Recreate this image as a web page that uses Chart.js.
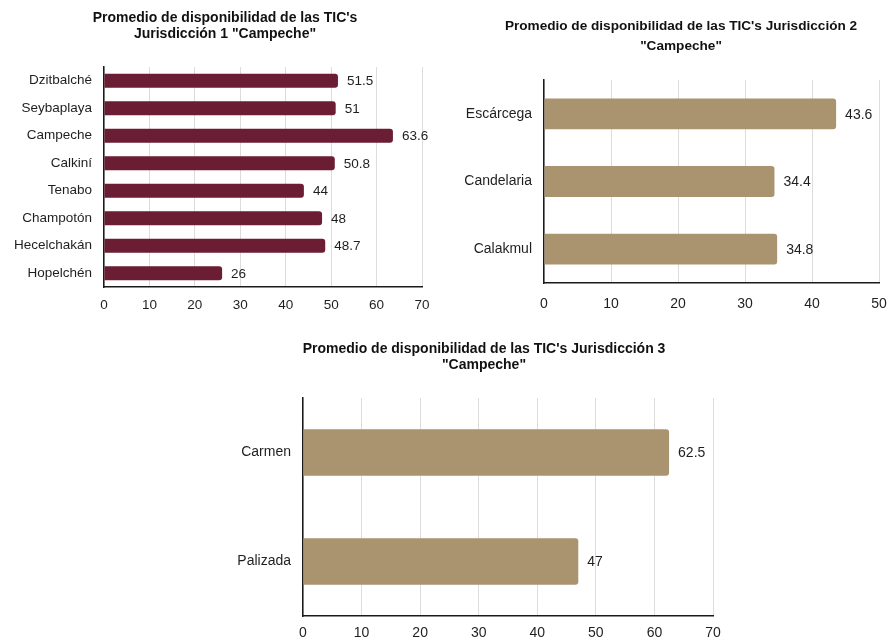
<!DOCTYPE html>
<html lang="es">
<head>
<meta charset="utf-8">
<title>Promedio de disponibilidad de las TIC's — Campeche</title>
<script src="https://cdn.jsdelivr.net/npm/chart.js@4.4.1/dist/chart.umd.min.js"></script>
<style>
  html, body { margin: 0; padding: 0; background: #ffffff; }
  #wrap { position: relative; width: 890px; height: 640px; overflow: hidden; }
  canvas { position: absolute; }
  #c1 { left: 0; top: 0; }
  #c2 { left: 445px; top: 0; }
  #c3 { left: 0; top: 320px; }
</style>
</head>
<body>
<div id="wrap">
  <canvas id="c1" width="445" height="320"></canvas>
  <canvas id="c2" width="445" height="320"></canvas>
  <canvas id="c3" width="890" height="320"></canvas>
</div>
<script>
// Jurisdicción 1
const j1Categories = ['Dzitbalché', 'Seybaplaya', 'Campeche', 'Calkiní', 'Tenabo', 'Champotón', 'Hecelchakán', 'Hopelchén'];
const j1Values = [51.5, 51, 63.6, 50.8, 44, 48, 48.7, 26];
const j1Ticks = [0, 10, 20, 30, 40, 50, 60, 70];

// Jurisdicción 2
const j2Categories = ['Escárcega', 'Candelaria', 'Calakmul'];
const j2Values = [43.6, 34.4, 34.8];
const j2Ticks = [0, 10, 20, 30, 40, 50];

// Jurisdicción 3
const j3Categories = ['Carmen', 'Palizada'];
const j3Values = [62.5, 47];
const j3Ticks = [0, 10, 20, 30, 40, 50, 60, 70];

const MAROON = '#6b1d34';
const TAN = '#aa9470';
const TEXT = '#1f1f1f';
const FAMILY = '"Liberation Sans", Arial, Helvetica, sans-serif';

// Writes each bar's value just past its end
const valueLabels = {
  id: 'valueLabels',
  afterDatasetsDraw(chart, args, opts) {
    const ctx = chart.ctx;
    const meta = chart.getDatasetMeta(0);
    const data = chart.data.datasets[0].data;
    ctx.save();
    ctx.font = opts.size + 'px ' + FAMILY;
    ctx.fillStyle = TEXT;
    ctx.textAlign = 'left';
    ctx.textBaseline = 'middle';
    meta.data.forEach((bar, i) => {
      ctx.fillText(String(data[i]), bar.x + opts.gap, bar.y + 1);
    });
    ctx.restore();
  }
};

// Two-line bold heading, centred on a chosen x
const heading = {
  id: 'heading',
  afterDraw(chart, args, opts) {
    const ctx = chart.ctx;
    ctx.save();
    ctx.font = 'bold ' + opts.size + 'px ' + FAMILY;
    ctx.fillStyle = '#111';
    ctx.textAlign = 'center';
    ctx.textBaseline = 'middle';
    opts.lines.forEach((line, i) => {
      ctx.fillText(line, opts.x, opts.y + i * opts.gap);
    });
    ctx.restore();
  }
};

function buildChart(id, cfg) {
  return new Chart(document.getElementById(id), {
    type: 'bar',
    data: {
      labels: cfg.labels,
      datasets: [{
        data: cfg.values,
        backgroundColor: cfg.color,
        borderRadius: 3,
        borderSkipped: 'start',
        barPercentage: cfg.barPct,
        categoryPercentage: 1
      }]
    },
    options: {
      indexAxis: 'y',
      responsive: false,
      animation: false,
      devicePixelRatio: 1,
      layout: { padding: cfg.padding },
      plugins: {
        legend: { display: false },
        tooltip: { enabled: false },
        title: { display: false },
        heading: cfg.heading,
        valueLabels: { size: cfg.fontSize, gap: 9 }
      },
      scales: {
        x: {
          min: cfg.ticks[0],
          max: cfg.ticks[cfg.ticks.length - 1],
          afterBuildTicks: (scale) => { scale.ticks = cfg.ticks.map(v => ({ value: v })); },
          afterFit: (scale) => {
            scale.height = cfg.xHeight;
            scale.paddingLeft = 0;
            scale.paddingRight = 0;
          },
          grid: { color: '#dcdcdc', lineWidth: 1, drawTicks: false },
          border: { display: true, color: '#1a1a1a', width: 1.5 },
          ticks: {
            color: TEXT,
            padding: cfg.xPad,
            maxRotation: 0,
            font: { family: FAMILY, size: cfg.fontSize }
          }
        },
        y: {
          afterFit: (scale) => { scale.width = cfg.yWidth; },
          grid: { display: false, drawTicks: false },
          border: { display: true, color: '#1a1a1a', width: 1.5 },
          ticks: {
            color: TEXT,
            padding: 12,
            font: { family: FAMILY, size: cfg.fontSize }
          }
        }
      }
    },
    plugins: [valueLabels, heading]
  });
}

buildChart('c1', {
  labels: j1Categories,
  values: j1Values,
  ticks: j1Ticks,
  color: MAROON,
  barPct: 0.51,
  heading: { lines: ["Promedio de disponibilidad de las TIC's", 'Jurisdicción 1 "Campeche"'], x: 225, y: 18, gap: 16, size: 14 },
  padding: { left: 0, right: 23, top: 67, bottom: 0 },
  yWidth: 104,
  xHeight: 33,
  xPad: 10,
  fontSize: 13.5
});

buildChart('c2', {
  labels: j2Categories,
  values: j2Values,
  ticks: j2Ticks,
  color: TAN,
  barPct: 0.455,
  heading: { lines: ["Promedio de disponibilidad de las TIC's Jurisdicción 2", '"Campeche"'], x: 236, y: 26, gap: 20, size: 13.6 },
  padding: { left: 0, right: 11, top: 80, bottom: 0 },
  yWidth: 99,
  xHeight: 37,
  xPad: 13,
  fontSize: 14
});

buildChart('c3', {
  labels: j3Categories,
  values: j3Values,
  ticks: j3Ticks,
  color: TAN,
  barPct: 0.425,
  heading: { lines: ["Promedio de disponibilidad de las TIC's Jurisdicción 3", '"Campeche"'], x: 484, y: 29, gap: 16, size: 14 },
  padding: { left: 0, right: 177, top: 78, bottom: 0 },
  yWidth: 303,
  xHeight: 24,
  xPad: 9,
  fontSize: 14
});
</script>
</body>
</html>
